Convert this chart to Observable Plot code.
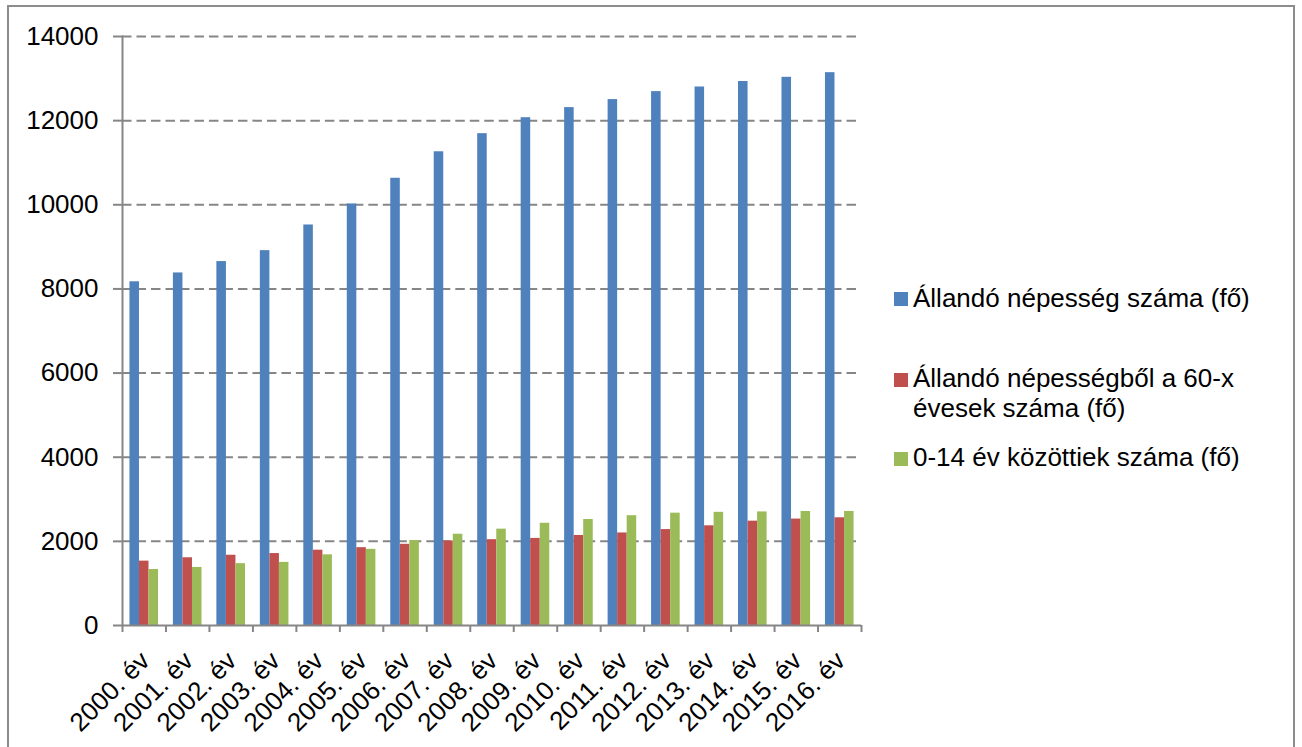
<!DOCTYPE html>
<html>
<head>
<meta charset="utf-8">
<script src="https://cdn.jsdelivr.net/npm/d3@7"></script>
<script src="https://cdn.jsdelivr.net/npm/@observablehq/plot@0.6"></script>
<style>
  html, body { margin: 0; padding: 0; background: #fff; }
  #wrap { position: relative; width: 1302px; height: 747px; overflow: hidden; font-family: "Liberation Sans", Arial, sans-serif; }
  #border { position: absolute; left: 7px; top: 5px; width: 1288px; height: 760px; border: 2px solid #8c8c8c; box-sizing: border-box; pointer-events: none; }
  #chart { position: absolute; left: 0; top: 0; }
  .lg { position: absolute; left: 913px; font-size: 26px; line-height: 30px; color: #000; white-space: nowrap; }
  .sw { position: absolute; left: 894px; width: 14px; height: 14px; }
</style>
</head>
<body>
<div id="wrap">
  <div id="chart"></div>
  <div id="legend"></div>
  <div id="border"></div>
</div>
<script>
const years = ["2000. év","2001. év","2002. év","2003. év","2004. év","2005. év","2006. év","2007. év","2008. év","2009. év","2010. év","2011. év","2012. év","2013. év","2014. év","2015. év","2016. év"];
const seriesNames = ["Állandó népesség száma (fő)", "Állandó népességből a 60-x évesek száma (fő)", "0-14 év közöttiek száma (fő)"];
const legendLines = [["Állandó népesség száma (fő)"], ["Állandó népességből a 60-x", "évesek száma (fő)"], ["0-14 év közöttiek száma (fő)"]];
const allando = [8170, 8380, 8650, 8910, 9520, 10020, 10630, 11260, 11690, 12070, 12310, 12500, 12690, 12800, 12930, 13030, 13140];
const idosek60 = [1530, 1610, 1670, 1710, 1790, 1850, 1930, 2010, 2040, 2070, 2140, 2200, 2280, 2370, 2480, 2530, 2560];
const gyerek014 = [1330, 1380, 1470, 1500, 1680, 1810, 2020, 2170, 2290, 2430, 2520, 2610, 2670, 2690, 2700, 2710, 2710];
const yTicks = [0, 2000, 4000, 6000, 8000, 10000, 12000, 14000];
const colors = ["#4F81BD", "#C0504D", "#9BBB59"];

const seriesValues = [allando, idosek60, gyerek014];
const rows = years.flatMap((yr, i) => seriesNames.map((s, k) => ({year: yr, series: s, value: seriesValues[k][i]})));

const W = 1302, H = 747, mL = 122, mR = 441, mT = 36, mB = 122;
const step = (W - mL - mR) / years.length;
const axisGray = "#868686";

const chart = Plot.plot({
  width: W, height: H,
  marginLeft: mL, marginRight: mR, marginTop: mT, marginBottom: mB,
  style: {fontFamily: "'Liberation Sans', Arial, sans-serif", fontSize: "26px", color: "#000", background: "transparent", overflow: "visible"},
  fx: {domain: years, padding: 0, round: false, label: null, axis: null},
  x: {domain: seriesNames, paddingInner: 0, paddingOuter: 0.78, round: false, axis: null},
  y: {domain: [0, 14000], axis: null},
  color: {domain: seriesNames, range: colors},
  marks: [
    Plot.ruleY(yTicks.filter(d => d > 0), {stroke: axisGray, strokeWidth: 2, strokeDasharray: "9.5,5"}),
    Plot.barY(rows, {fx: "year", x: "series", y: "value", fill: "series"}),
    Plot.ruleY([0], {stroke: axisGray, strokeWidth: 2}),
    Plot.frame({anchor: "left", facetAnchor: "left", stroke: axisGray, strokeWidth: 2}),
    Plot.axisY({ticks: yTicks, tickFormat: d => String(d), tickSize: 9, tickPadding: 15, stroke: axisGray, strokeWidth: 2, fill: "#000", fontSize: 26, label: null}),
    // category boundary ticks (between years), plus the closing tick at the right end
    Plot.axisFx({anchor: "bottom", tickSize: 7, tickFormat: () => "", dx: -step / 2, stroke: axisGray, strokeWidth: 2, label: null}),
    Plot.axisFx({anchor: "bottom", ticks: [years[years.length - 1]], tickSize: 7, tickFormat: () => "", dx: step / 2, stroke: axisGray, strokeWidth: 2, label: null}),
    Plot.axisFx({anchor: "bottom", tickRotate: -45, tickSize: 0, tickPadding: 31, dx: 1, fill: "#000", fontSize: 26, label: null})
  ]
});
document.getElementById("chart").appendChild(chart);

// legend (right side)
const legendTop = [283, 363, 442];
const swatchTop = [292, 373, 452];
const lg = document.getElementById("legend");
legendLines.forEach((lines, k) => {
  const sw = document.createElement("div");
  sw.className = "sw";
  sw.style.top = swatchTop[k] + "px";
  sw.style.background = colors[k];
  lg.appendChild(sw);
  const t = document.createElement("div");
  t.className = "lg";
  t.style.top = legendTop[k] + "px";
  t.innerHTML = lines.join("<br>");
  lg.appendChild(t);
});
</script>
</body>
</html>
